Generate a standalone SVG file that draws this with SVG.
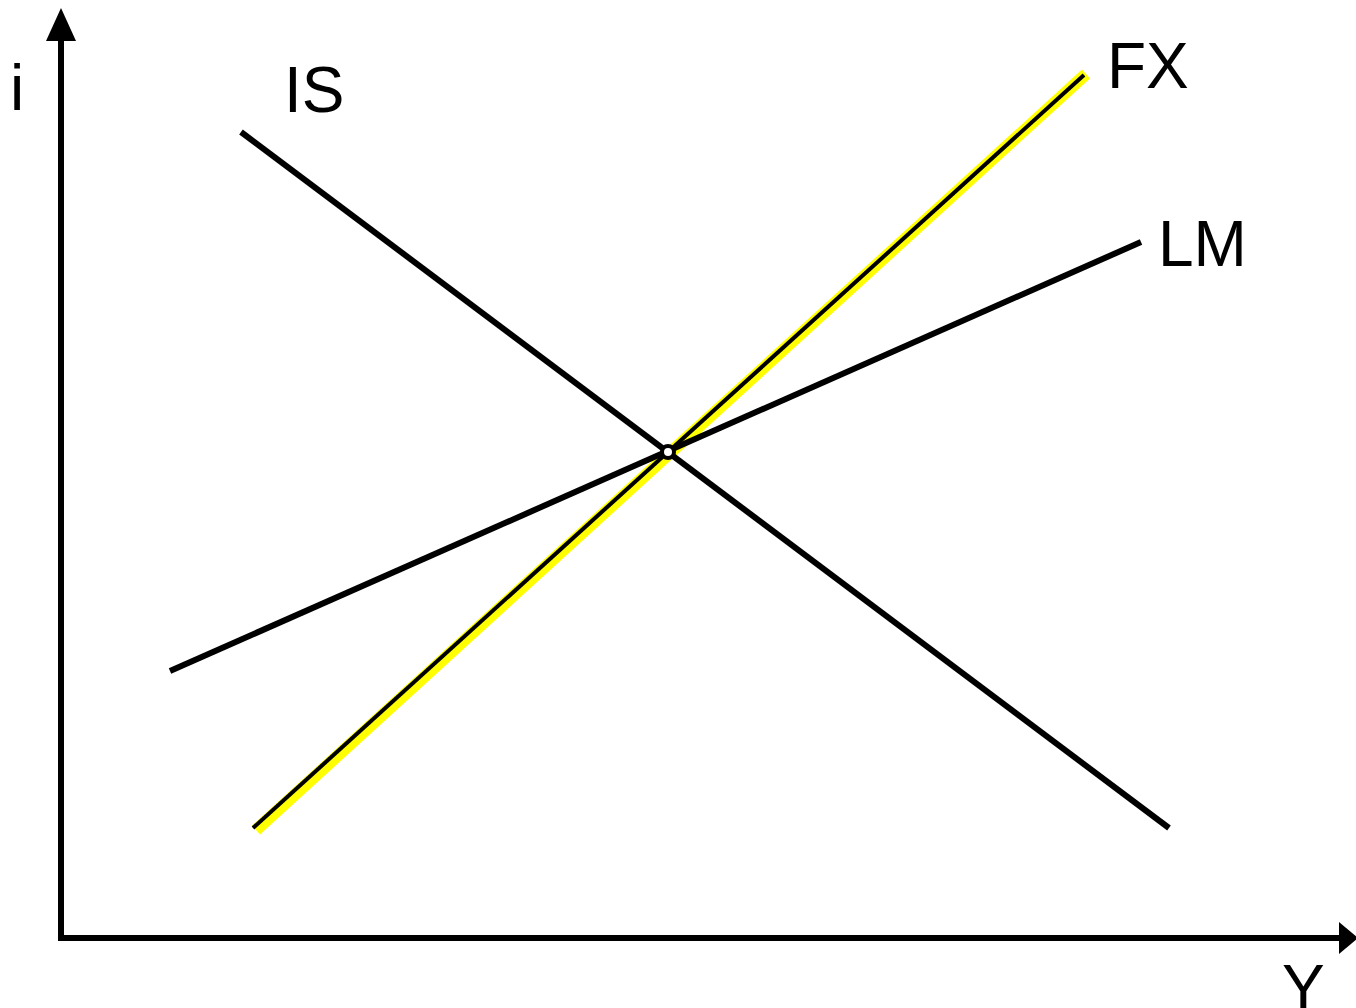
<svg xmlns="http://www.w3.org/2000/svg" width="1356" height="1008" viewBox="0 0 1356 1008">
<style>
.t{font-family:"Liberation Sans",Arial,sans-serif;font-size:64px;fill:#000}
.c{stroke:#000;stroke-width:6;fill:none}
</style>
<rect width="1356" height="1008" fill="#fff"/>
<g id="axes">
<line x1="61" y1="938" x2="61" y2="38" class="c"/>
<polygon points="46,41 76,41 61,8" fill="#000"/>
<line x1="58" y1="938" x2="1342" y2="938" class="c"/>
<polygon points="1339,922 1339,954 1358,938" fill="#000"/>
</g>
<g id="connectors">
<line id="fx-highlight" x1="256" y1="830" x2="1086" y2="74" stroke="#ffff00" stroke-width="12"/>
<line id="fx" x1="253" y1="828" x2="1084" y2="75" stroke="#000" stroke-width="4"/>
<line id="is" x1="241" y1="132" x2="1169" y2="828" class="c"/>
<line id="lm" x1="170" y1="671" x2="1141" y2="242" class="c"/>
</g>
<g id="equilibrium">
<circle cx="668" cy="452" r="6" fill="#fff" stroke="#000" stroke-width="4"/>
</g>
<g id="labels">
<text class="t" x="10" y="110">i</text>
<text class="t" x="284" y="112">IS</text>
<text class="t" x="1107" y="88">FX</text>
<text class="t" x="1158" y="266">LM</text>
<text class="t" x="1282" y="1010">Y</text>
</g>
</svg>
